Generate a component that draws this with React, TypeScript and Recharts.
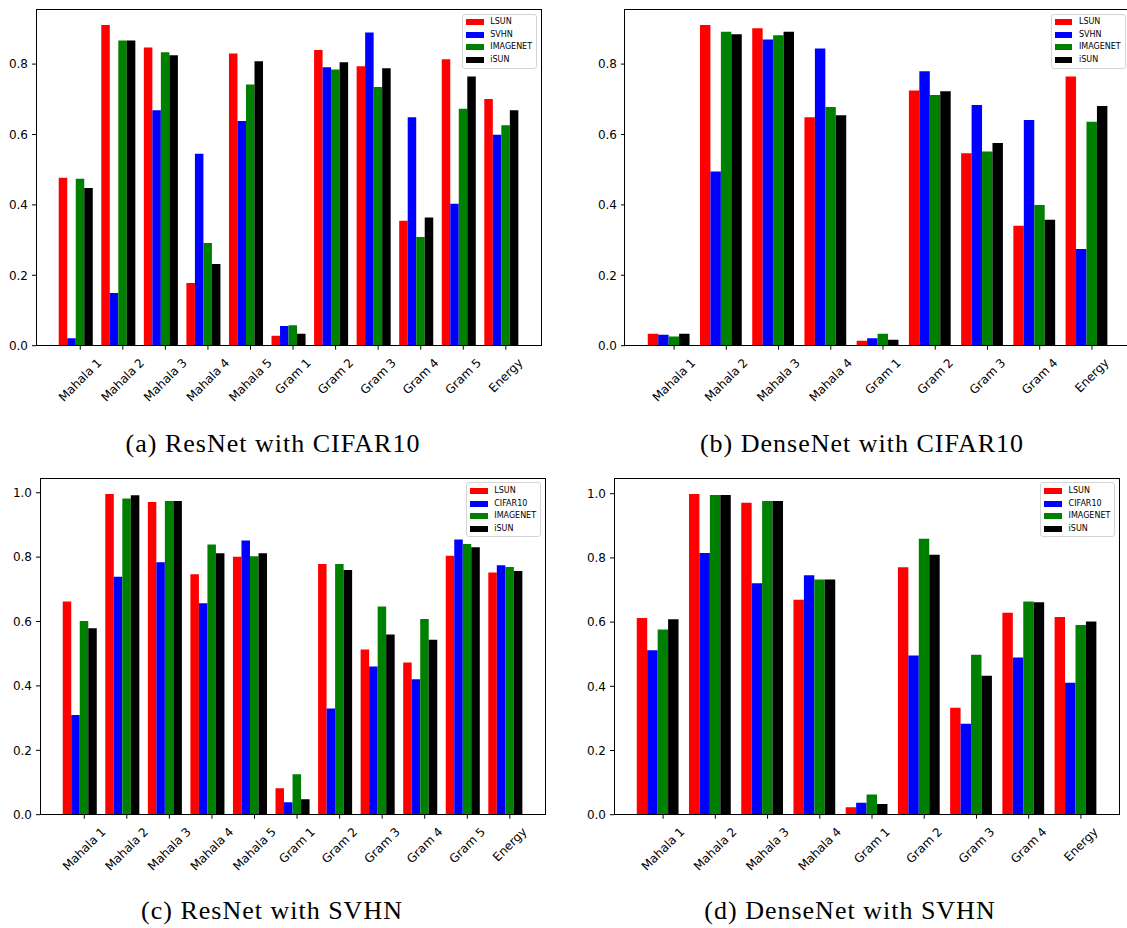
import React from "react";
import { BarChart, Bar, XAxis, YAxis, Legend } from "recharts";

const CATS_11 = ["Mahala 1", "Mahala 2", "Mahala 3", "Mahala 4", "Mahala 5", "Gram 1", "Gram 2", "Gram 3", "Gram 4", "Gram 5", "Energy"];
const CATS_9 = ["Mahala 1", "Mahala 2", "Mahala 3", "Mahala 4", "Gram 1", "Gram 2", "Gram 3", "Gram 4", "Energy"];

const NAMES_CIFAR = ["LSUN", "SVHN", "IMAGENET", "iSUN"];
const NAMES_SVHN = ["LSUN", "CIFAR10", "IMAGENET", "iSUN"];
const COLORS = ["#ff0000", "#0000ff", "#008000", "#000000"];

// (a) ResNet with CIFAR10
const A_LSUN = [0.477, 0.911, 0.847, 0.178, 0.83, 0.028, 0.84, 0.794, 0.355, 0.814, 0.701];
const A_SVHN = [0.021, 0.15, 0.669, 0.545, 0.638, 0.056, 0.791, 0.89, 0.649, 0.403, 0.599];
const A_IMAGENET = [0.474, 0.867, 0.834, 0.292, 0.742, 0.058, 0.785, 0.735, 0.309, 0.673, 0.626];
const A_ISUN = [0.448, 0.867, 0.825, 0.232, 0.808, 0.034, 0.805, 0.788, 0.364, 0.765, 0.669];

// (b) DenseNet with CIFAR10
const B_LSUN = [0.034, 0.911, 0.902, 0.649, 0.014, 0.725, 0.547, 0.341, 0.765];
const B_SVHN = [0.031, 0.495, 0.87, 0.844, 0.021, 0.78, 0.684, 0.641, 0.275];
const B_IMAGENET = [0.026, 0.892, 0.882, 0.678, 0.034, 0.712, 0.552, 0.4, 0.636];
const B_ISUN = [0.034, 0.885, 0.892, 0.655, 0.017, 0.723, 0.576, 0.358, 0.681];

// (c) ResNet with SVHN
const C_LSUN = [0.662, 0.996, 0.971, 0.747, 0.801, 0.082, 0.779, 0.513, 0.473, 0.804, 0.752];
const C_CIFAR = [0.31, 0.739, 0.784, 0.657, 0.852, 0.039, 0.33, 0.46, 0.421, 0.855, 0.775];
const C_IMAGENET = [0.602, 0.982, 0.974, 0.839, 0.803, 0.126, 0.779, 0.647, 0.608, 0.841, 0.769];
const C_ISUN = [0.579, 0.992, 0.974, 0.812, 0.812, 0.048, 0.76, 0.56, 0.543, 0.831, 0.757];

// (d) DenseNet with SVHN
const D_LSUN = [0.613, 0.999, 0.972, 0.67, 0.023, 0.771, 0.333, 0.629, 0.616];
const D_CIFAR = [0.512, 0.815, 0.721, 0.746, 0.037, 0.496, 0.283, 0.49, 0.411];
const D_IMAGENET = [0.577, 0.996, 0.977, 0.733, 0.063, 0.86, 0.498, 0.664, 0.591];
const D_ISUN = [0.609, 0.996, 0.977, 0.733, 0.033, 0.81, 0.433, 0.662, 0.602];

const TICKS_08 = [0, 0.2, 0.4, 0.6, 0.8];
const TICKS_10 = [0, 0.2, 0.4, 0.6, 0.8, 1.0];

const PLOT_W = 505.6;
const PLOT_H = 336.7;
const Y_W = 40;
const M_TOP = 10;
const FS = 12;
const FONT = "DejaVu Sans";

let ctx: CanvasRenderingContext2D | null = null;
function textWidth(s: string) {
  if (!ctx) ctx = document.createElement("canvas").getContext("2d");
  if (!ctx) return s.length * FS * 0.6;
  ctx.font = `${FS}px "${FONT}"`;
  return ctx.measureText(s).width;
}

function XTick(props: any) {
  const { x, payload, shift, axisY } = props;
  const tx = x + shift;
  const w = textWidth(payload.value);
  const box = (w + FS * 1.17) * Math.SQRT1_2;
  const cy = axisY + 10 + box / 2;
  return (
    <g>
      <line x1={tx} x2={tx} y1={axisY} y2={axisY + 4} stroke="#000" strokeWidth={1} />
      <text
        x={tx}
        y={cy}
        transform={`rotate(-45 ${tx} ${cy})`}
        textAnchor="middle"
        dominantBaseline="central"
        fontSize={FS}
        fontFamily={FONT}
        fill="#000"
      >
        {payload.value}
      </text>
    </g>
  );
}

function LegendBox({ names }: { names: string[] }) {
  return (
    <div
      style={{
        width: 75,
        height: 55,
        boxSizing: "border-box",
        border: "1px solid #d4d4d4",
        borderRadius: 3,
        background: "rgba(255,255,255,0.85)",
        fontFamily: FONT,
        fontSize: 8,
        color: "#000",
        paddingTop: 1,
      }}
    >
      {names.map((n, i) => (
        <div key={n} style={{ display: "flex", alignItems: "center", height: 12.8 }}>
          <span style={{ display: "inline-block", width: 17.6, height: 6, background: COLORS[i], marginLeft: 3 }} />
          <span style={{ marginLeft: 6.5, lineHeight: "10px" }}>{n}</span>
        </div>
      ))}
    </div>
  );
}

type PanelProps = {
  left: number;
  top: number;
  cats: string[];
  names: string[];
  series: number[][];
  ticks: number[];
};

function Panel({ left, top, cats, names, series, ticks }: PanelProps) {
  const n = cats.length;
  const padF = 0.05 * (n - 0.2) - 0.1;
  const pitch = PLOT_W / (n + 2 * padF);
  const pad = padF * pitch;
  const data = cats.map((c, i) => {
    const row: any = { name: c };
    series.forEach((s, k) => (row["s" + k] = s[i]));
    return row;
  });
  const maxV = Math.max(...series.flat());
  const ymax = maxV * 1.05;
  const axisY = M_TOP + PLOT_H;
  const W = Y_W + PLOT_W + 10;
  const H = M_TOP + PLOT_H + 110;
  return (
    <>
      <div style={{ position: "absolute", left: left - Y_W, top: top - M_TOP }}>
        <BarChart
          width={W}
          height={H}
          data={data}
          margin={{ top: M_TOP, right: 10, left: 0, bottom: 0 }}
          barCategoryGap="10%"
          barGap={0}
          barSize={pitch * 0.2}
        >
          <XAxis
            dataKey="name"
            interval={0}
            axisLine={false}
            tickLine={false}
            tickSize={0}
            tickMargin={0}
            height={110}
            padding={{ left: pad, right: pad }}
            tick={(p: any) => <XTick {...p} shift={pitch * 0.1} axisY={axisY} />}
          />
          <YAxis
            type="number"
            domain={[0, ymax]}
            ticks={ticks}
            allowDataOverflow
            width={Y_W}
            axisLine={false}
            tickLine={{ stroke: "#000" }}
            tickSize={4}
            tickMargin={4}
            tickFormatter={(v: number) => v.toFixed(1)}
            tick={{ fontSize: FS, fill: "#000", fontFamily: FONT }}
          />
          <Legend
            layout="vertical"
            align="center"
            verticalAlign="middle"
            wrapperStyle={{ top: M_TOP + 4.2, left: Y_W + PLOT_W - 4.4 - 75, width: 75, height: 55 }}
            content={() => <LegendBox names={names} />}
          />
          {series.map((_, k) => (
            <Bar key={k} dataKey={"s" + k} name={names[k]} fill={COLORS[k]} isAnimationActive={false} />
          ))}
        </BarChart>
      </div>
      <div
        style={{
          position: "absolute",
          left: left - 0.5,
          top: top - 0.5,
          width: PLOT_W + 1,
          height: PLOT_H + 1,
          boxSizing: "border-box",
          border: "1px solid #000",
          pointerEvents: "none",
        }}
      />
    </>
  );
}

const CAPTIONS = [
  { text: "(a) ResNet with CIFAR10", x: 273, y: 452 },
  { text: "(b) DenseNet with CIFAR10", x: 862, y: 452 },
  { text: "(c) ResNet with SVHN", x: 272, y: 919 },
  { text: "(d) DenseNet with SVHN", x: 850, y: 919 },
];

export default function App() {
  return (
    <div
      style={{
        position: "fixed",
        left: 0,
        top: 0,
        width: 1127,
        height: 928,
        overflow: "hidden",
        background: "#fff",
      }}
    >
      <svg width={1127} height={928} style={{ position: "absolute", left: 0, top: 0 }}>
        {CAPTIONS.map((c) => (
          <text
            key={c.text}
            x={c.x}
            y={c.y}
            textAnchor="middle"
            fontFamily="Liberation Serif"
            fontSize={26}
            letterSpacing={1}
            fill="#000"
          >
            {c.text}
          </text>
        ))}
      </svg>
      <Panel left={36} top={9.3} cats={CATS_11} names={NAMES_CIFAR} series={[A_LSUN, A_SVHN, A_IMAGENET, A_ISUN]} ticks={TICKS_08} />
      <Panel left={624.7} top={9.3} cats={CATS_9} names={NAMES_CIFAR} series={[B_LSUN, B_SVHN, B_IMAGENET, B_ISUN]} ticks={TICKS_08} />
      <Panel left={40} top={478.3} cats={CATS_11} names={NAMES_SVHN} series={[C_LSUN, C_CIFAR, C_IMAGENET, C_ISUN]} ticks={TICKS_10} />
      <Panel left={614.3} top={478.3} cats={CATS_9} names={NAMES_SVHN} series={[D_LSUN, D_CIFAR, D_IMAGENET, D_ISUN]} ticks={TICKS_10} />
    </div>
  );
}
